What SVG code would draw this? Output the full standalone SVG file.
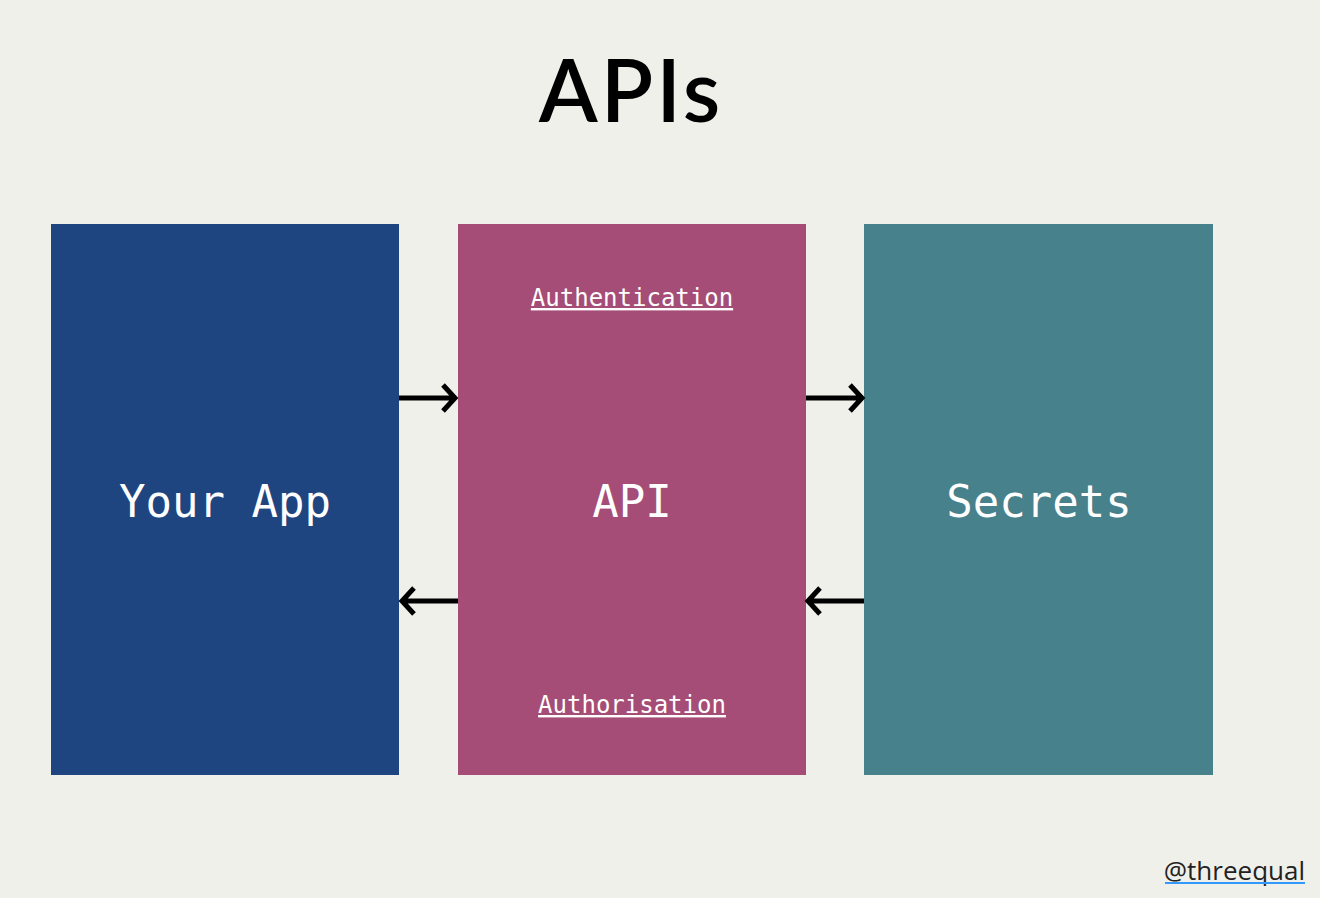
<svg xmlns="http://www.w3.org/2000/svg" width="1320" height="898" viewBox="0 0 1320 898">
<style>
.mono{font-family:"DejaVu Sans Mono","Liberation Mono",monospace;fill:#ffffff;text-anchor:middle}
.big{font-size:44px}
.small{font-size:24px;text-decoration:underline}
.arrow{fill:none;stroke:#000;stroke-width:5}
</style>
<rect width="1320" height="898" fill="#F0F0EB"/>
<text x="631" y="122" font-family="Lato,'Open Sans',sans-serif" font-size="86" font-weight="600" letter-spacing="3" text-anchor="middle" fill="#000">APIs</text>
<g id="your-app">
<rect x="51" y="224" width="348" height="551" fill="#1F4581"/>
<text class="mono big" x="225" y="517">Your App</text>
</g>
<g id="api">
<rect x="458" y="224" width="348" height="551" fill="#A54D76"/>
<text class="mono small" x="632" y="306">Authentication</text>
<text class="mono big" x="632" y="517">API</text>
<text class="mono small" x="632" y="713">Authorisation</text>
</g>
<g id="secrets">
<rect x="864" y="224" width="349" height="551" fill="#47818C"/>
<text class="mono big" x="1039" y="517">Secrets</text>
</g>
<g id="connectors">
<path class="arrow" d="M399 398H454M443 385L455 398L443 411"/>
<path class="arrow" d="M458 601H403M414 588L402 601L414 614"/>
<path class="arrow" d="M806 398H861M850 385L862 398L850 411"/>
<path class="arrow" d="M864 601H809M820 588L808 601L820 614"/>
</g>
<text x="1305" y="880" font-family="'Open Sans',sans-serif" font-size="26" text-anchor="end" fill="#222">@threequal</text>
<line x1="1165" y1="883" x2="1305" y2="883" stroke="#3399FF" stroke-width="2"/>
</svg>
